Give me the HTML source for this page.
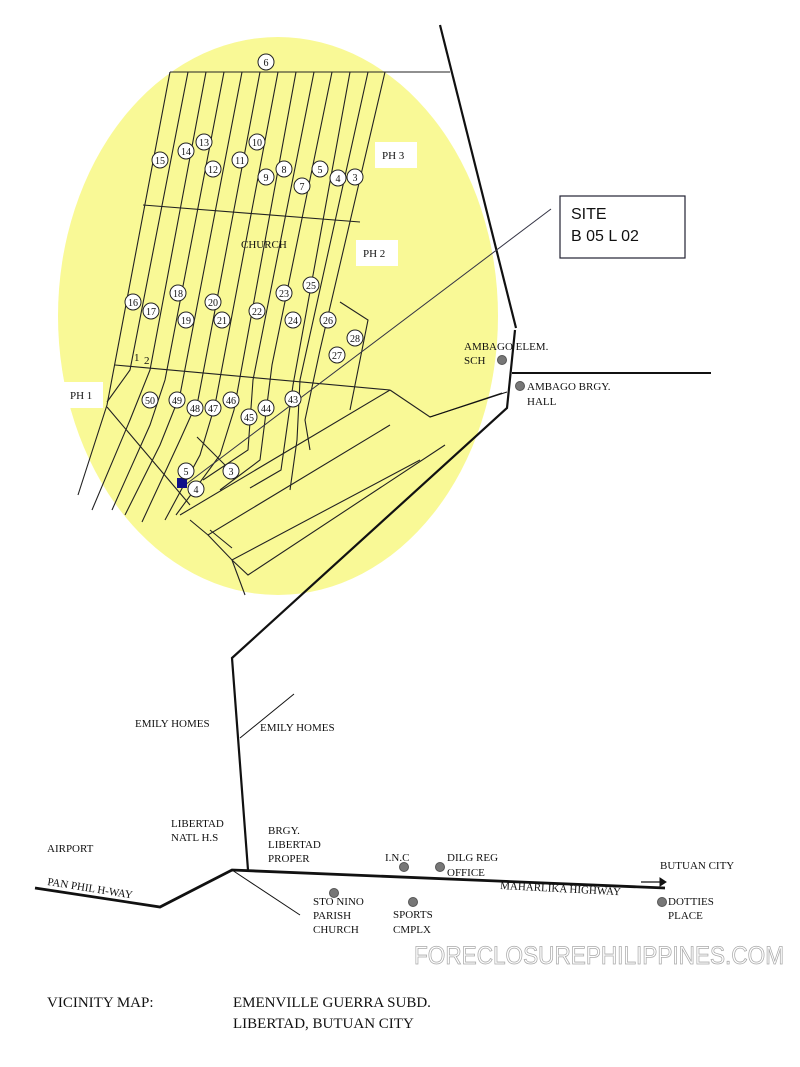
<!DOCTYPE html>
<html><head><meta charset="utf-8"><style>
html,body{margin:0;padding:0;background:#fff;}
svg{display:block;}
text{font-family:"Liberation Serif",serif;font-size:11px;fill:#111;}
.n{font-size:10px;text-anchor:middle;}
</style></head><body>
<svg width="800" height="1067" viewBox="0 0 800 1067" xmlns="http://www.w3.org/2000/svg">
<ellipse cx="278" cy="316" rx="220" ry="279" fill="#f9f996"/>
<g stroke="#222" stroke-width="1.1" fill="none">
<line x1="170" y1="72" x2="450" y2="72"/>
<line x1="143" y1="205" x2="360" y2="222"/>
<line x1="115" y1="365" x2="390" y2="390"/>
<polyline points="390,390 430,417 502,393"/>
<polyline points="170,72 107,405 78,495"/>
<polyline points="188,72 130,370 107,402"/>
<polyline points="206,72 150,370 130,420 92,510"/>
<polyline points="224,72 165,380 150,425 112,510"/>
<polyline points="242,72 180,395 160,445 125,515"/>
<polyline points="260,72 198,400 180,440 142,522"/>
<polyline points="278,72 215,405 200,455 165,520"/>
<polyline points="296,72 234,410 220,455 176,515"/>
<polyline points="314,72 253,380 248,450 203,480"/>
<polyline points="332,72 272,365 260,460 220,490"/>
<polyline points="350,72 293,385 281,470 250,488"/>
<polyline points="368,72 300,380 297,440 290,490"/>
<polyline points="385,72 320,350 305,420 310,450"/>
<polyline points="340,302 368,320 352,400 350,410"/>
<line x1="107" y1="407" x2="190" y2="505"/>
<polyline points="197,437 230,470"/>
<polyline points="180,515 390,390"/>
<polyline points="190,520 208,535 390,425"/>
<polyline points="208,535 232,560 420,460"/>
<polyline points="232,560 248,575 445,445"/>
<polyline points="232,560 245,595"/>
<polyline points="210,530 232,548"/>
</g>
<g stroke="#111" fill="none">
<polyline points="440,25 516,328" stroke-width="2.2"/>
<polyline points="515,330 507,408 232,658 248,870" stroke-width="2.2"/>
<line x1="512" y1="373" x2="711" y2="373" stroke-width="2"/>
<polyline points="35,888 160,907 232,870 665,888" stroke-width="2.8"/>
<line x1="240" y1="738" x2="294" y2="694" stroke-width="1"/>
<line x1="232" y1="870" x2="300" y2="915" stroke-width="1"/>
<line x1="430" y1="417" x2="507" y2="392" stroke-width="1"/>
<line x1="641" y1="882" x2="660" y2="882" stroke-width="1.3"/>
<polygon points="660,878 666,882 660,886" fill="#111"/>
</g>
<line x1="551" y1="209" x2="185" y2="485" stroke="#334" stroke-width="1"/>
<rect x="177" y="478" width="10" height="10" fill="#11118a"/>
<rect x="375" y="142" width="42" height="26" fill="#fff"/><text x="382" y="159">PH 3</text>
<rect x="356" y="240" width="42" height="26" fill="#fff"/><text x="363" y="257">PH 2</text>
<rect x="63" y="382" width="40" height="26" fill="#fff"/><text x="70" y="399">PH 1</text>
<text x="241" y="248">CHURCH</text>
<text x="134" y="361" font-size="8">1</text><text x="144" y="364" font-size="8">2</text>
<rect x="560" y="196" width="125" height="62" fill="#fff" stroke="#223" stroke-width="1.2"/>
<text x="571" y="219" style="font-family:'Liberation Sans',sans-serif;font-size:16px">SITE</text>
<text x="571" y="241" style="font-family:'Liberation Sans',sans-serif;font-size:16px">B 05 L 02</text>
<g fill="#fff" stroke="#222" stroke-width="1">
<circle cx="266" cy="62" r="8"/><circle cx="160" cy="160" r="8"/><circle cx="186" cy="151" r="8"/><circle cx="204" cy="142" r="8"/><circle cx="213" cy="169" r="8"/><circle cx="240" cy="160" r="8"/><circle cx="257" cy="142" r="8"/><circle cx="266" cy="177" r="8"/><circle cx="284" cy="169" r="8"/><circle cx="302" cy="186" r="8"/><circle cx="320" cy="169" r="8"/><circle cx="338" cy="178" r="8"/><circle cx="355" cy="177" r="8"/>
<circle cx="133" cy="302" r="8"/><circle cx="151" cy="311" r="8"/><circle cx="178" cy="293" r="8"/><circle cx="186" cy="320" r="8"/><circle cx="213" cy="302" r="8"/><circle cx="222" cy="320" r="8"/><circle cx="257" cy="311" r="8"/><circle cx="284" cy="293" r="8"/><circle cx="311" cy="285" r="8"/><circle cx="293" cy="320" r="8"/><circle cx="328" cy="320" r="8"/><circle cx="355" cy="338" r="8"/><circle cx="337" cy="355" r="8"/>
<circle cx="150" cy="400" r="8"/><circle cx="177" cy="400" r="8"/><circle cx="195" cy="408" r="8"/><circle cx="213" cy="408" r="8"/><circle cx="231" cy="400" r="8"/><circle cx="249" cy="417" r="8"/><circle cx="266" cy="408" r="8"/><circle cx="293" cy="399" r="8"/>
<circle cx="186" cy="471" r="8"/><circle cx="196" cy="489" r="8"/><circle cx="231" cy="471" r="8"/>
</g>
<g>
<text class="n" x="266" y="66">6</text><text class="n" x="160" y="164">15</text><text class="n" x="186" y="155">14</text><text class="n" x="204" y="146">13</text><text class="n" x="213" y="173">12</text><text class="n" x="240" y="164">11</text><text class="n" x="257" y="146">10</text><text class="n" x="266" y="181">9</text><text class="n" x="284" y="173">8</text><text class="n" x="302" y="190">7</text><text class="n" x="320" y="173">5</text><text class="n" x="338" y="182">4</text><text class="n" x="355" y="181">3</text>
<text class="n" x="133" y="306">16</text><text class="n" x="151" y="315">17</text><text class="n" x="178" y="297">18</text><text class="n" x="186" y="324">19</text><text class="n" x="213" y="306">20</text><text class="n" x="222" y="324">21</text><text class="n" x="257" y="315">22</text><text class="n" x="284" y="297">23</text><text class="n" x="311" y="289">25</text><text class="n" x="293" y="324">24</text><text class="n" x="328" y="324">26</text><text class="n" x="355" y="342">28</text><text class="n" x="337" y="359">27</text>
<text class="n" x="150" y="404">50</text><text class="n" x="177" y="404">49</text><text class="n" x="195" y="412">48</text><text class="n" x="213" y="412">47</text><text class="n" x="231" y="404">46</text><text class="n" x="249" y="421">45</text><text class="n" x="266" y="412">44</text><text class="n" x="293" y="403">43</text>
<text class="n" x="186" y="475">5</text><text class="n" x="196" y="493">4</text><text class="n" x="231" y="475">3</text>
</g>
<g fill="#777" stroke="#555"><circle cx="502" cy="360" r="4.5"/><circle cx="520" cy="386" r="4.5"/><circle cx="404" cy="867" r="4.5"/><circle cx="440" cy="867" r="4.5"/><circle cx="334" cy="893" r="4.5"/><circle cx="413" cy="902" r="4.5"/><circle cx="662" cy="902" r="4.5"/></g>
<text x="464" y="350">AMBAGO ELEM.</text><text x="464" y="364">SCH</text>
<text x="527" y="390">AMBAGO BRGY.</text><text x="527" y="405">HALL</text>
<text x="135" y="727">EMILY HOMES</text><text x="260" y="731">EMILY HOMES</text>
<text x="171" y="827">LIBERTAD</text><text x="171" y="841">NATL H.S</text>
<text x="47" y="852">AIRPORT</text>
<text x="268" y="834">BRGY.</text><text x="268" y="848">LIBERTAD</text><text x="268" y="862">PROPER</text>
<text x="385" y="861">I.N.C</text>
<text x="447" y="861">DILG REG</text><text x="447" y="876">OFFICE</text>
<text x="660" y="869">BUTUAN CITY</text>
<text x="500" y="889" transform="rotate(3 500 889)">MAHARLIKA HIGHWAY</text>
<text x="47" y="885" transform="rotate(9 47 885)">PAN PHIL H-WAY</text>
<text x="313" y="905">STO NINO</text><text x="313" y="919">PARISH</text><text x="313" y="933">CHURCH</text>
<text x="393" y="918">SPORTS</text><text x="393" y="933">CMPLX</text>
<text x="668" y="905">DOTTIES</text><text x="668" y="919">PLACE</text>
<text x="414" y="964" style="font-family:'Liberation Sans',sans-serif;font-size:25px;fill:#fff;stroke:#aaa;stroke-width:0.8" textLength="370" lengthAdjust="spacingAndGlyphs">FORECLOSUREPHILIPPINES.COM</text>
<text x="47" y="1007" style="font-size:15px">VICINITY MAP:</text>
<text x="233" y="1007" style="font-size:15px">EMENVILLE GUERRA SUBD.</text>
<text x="233" y="1028" style="font-size:15px">LIBERTAD, BUTUAN CITY</text>
</svg>
</body></html>
